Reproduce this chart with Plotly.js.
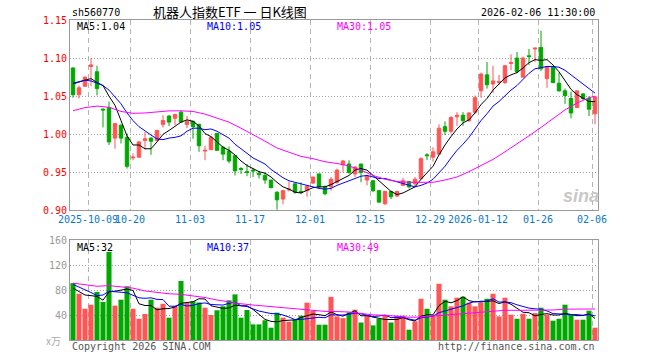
<!DOCTYPE html>
<html><head><meta charset="utf-8">
<script src="https://cdn.plot.ly/plotly-3.0.1.min.js"></script>
<style>html,body{margin:0;padding:0;background:#fff}#c{width:660px;height:360px}</style>
</head><body><div id="c"></div>
<script>
const dates = ["2025-09-26","2025-09-29","2025-09-30","2025-10-09","2025-10-10","2025-10-13","2025-10-14","2025-10-15","2025-10-16","2025-10-17",
"2025-10-20","2025-10-21","2025-10-22","2025-10-23","2025-10-24","2025-10-27","2025-10-28","2025-10-29","2025-10-30","2025-10-31",
"2025-11-03","2025-11-04","2025-11-05","2025-11-06","2025-11-07","2025-11-10","2025-11-11","2025-11-12","2025-11-13","2025-11-14",
"2025-11-17","2025-11-18","2025-11-19","2025-11-20","2025-11-21","2025-11-24","2025-11-25","2025-11-26","2025-11-27","2025-11-28",
"2025-12-01","2025-12-02","2025-12-03","2025-12-04","2025-12-05","2025-12-08","2025-12-09","2025-12-10","2025-12-11","2025-12-12",
"2025-12-15","2025-12-16","2025-12-17","2025-12-18","2025-12-19","2025-12-22","2025-12-23","2025-12-24","2025-12-25","2025-12-26",
"2025-12-29","2025-12-30","2025-12-31","2026-01-05","2026-01-06","2026-01-07","2026-01-08","2026-01-09","2026-01-12","2026-01-13",
"2026-01-14","2026-01-15","2026-01-16","2026-01-19","2026-01-20","2026-01-21","2026-01-22","2026-01-23","2026-01-26","2026-01-27",
"2026-01-28","2026-01-29","2026-01-30","2026-02-02","2026-02-03","2026-02-04","2026-02-05","2026-02-06"];

const open  = [1.087,1.052,1.063,1.089,1.082,1.033,1.035,0.995,1.012,0.996,
0.969,0.970,0.992,0.995,0.992,1.013,1.024,1.021,1.029,1.013,
1.017,1.013,0.978,0.980,1.001,0.983,0.978,0.972,0.955,0.951,
0.953,0.949,0.946,0.940,0.924,0.915,0.927,0.935,0.925,0.926,
0.936,0.948,0.931,0.931,0.937,0.960,0.961,0.948,0.961,0.940,
0.939,0.926,0.909,0.925,0.919,0.933,0.938,0.935,0.942,0.973,
0.970,0.974,1.010,1.004,1.023,1.025,1.018,1.029,1.057,1.078,
1.066,1.068,1.068,1.093,1.100,1.075,1.103,1.112,1.114,1.073,
1.089,1.067,1.057,1.047,1.035,1.053,1.047,1.027];
const high  = [1.088,1.064,1.076,1.100,1.090,1.034,1.043,1.015,1.013,1.001,
0.975,0.991,1.003,0.996,1.006,1.025,1.025,1.027,1.031,1.024,
1.018,1.014,0.985,0.998,1.002,0.985,0.984,0.973,0.957,0.961,
0.956,0.952,0.950,0.940,0.925,0.927,0.938,0.936,0.937,0.933,
0.944,0.948,0.933,0.944,0.955,0.966,0.966,0.958,0.961,0.945,
0.940,0.927,0.926,0.926,0.926,0.943,0.939,0.944,0.970,0.975,
0.983,1.013,1.017,1.024,1.029,1.029,1.029,1.051,1.081,1.095,
1.090,1.078,1.091,1.105,1.108,1.102,1.112,1.114,1.136,1.089,
1.089,1.081,1.060,1.056,1.057,1.054,1.050,1.049];
const low   = [1.048,1.047,1.062,1.063,1.051,1.009,0.986,0.981,0.988,0.955,
0.966,0.969,0.980,0.973,0.991,1.009,1.011,1.012,1.015,1.008,
0.994,0.977,0.966,0.979,0.978,0.966,0.962,0.946,0.948,0.945,
0.944,0.942,0.935,0.929,0.901,0.908,0.925,0.922,0.922,0.918,
0.935,0.929,0.920,0.926,0.935,0.950,0.948,0.944,0.937,0.933,
0.924,0.910,0.907,0.915,0.918,0.932,0.929,0.931,0.940,0.966,
0.964,0.974,0.999,1.001,1.011,1.011,1.016,1.027,1.048,1.060,
1.054,1.065,1.066,1.084,1.080,1.075,1.091,1.095,1.083,1.061,
1.067,1.056,1.040,1.021,1.035,1.045,1.024,1.013];
const close = [1.052,1.061,1.075,1.091,1.060,1.032,0.990,1.014,0.995,0.958,
0.970,0.990,0.994,0.991,1.005,1.018,1.016,1.026,1.016,1.017,
1.010,0.985,0.979,0.996,0.979,0.974,0.965,0.952,0.954,0.950,
0.952,0.947,0.940,0.930,0.914,0.926,0.928,0.924,0.924,0.932,
0.944,0.931,0.922,0.941,0.953,0.965,0.950,0.957,0.950,0.945,
0.926,0.911,0.925,0.918,0.925,0.939,0.931,0.941,0.968,0.972,
0.977,1.008,1.004,1.022,1.025,1.018,1.028,1.048,1.079,1.065,
1.070,1.069,1.090,1.094,1.082,1.100,1.102,1.113,1.086,1.089,
1.068,1.057,1.051,1.028,1.057,1.047,1.033,1.049];

const ma5 = [1.067,1.069,1.072,1.073,1.068,1.064,1.050,1.038,1.018,0.998,
0.986,0.986,0.981,0.981,0.990,1.000,1.005,1.011,1.016,1.019,
1.017,1.011,1.001,0.997,0.990,0.983,0.979,0.973,0.965,0.959,
0.955,0.951,0.949,0.944,0.937,0.931,0.928,0.924,0.923,0.927,
0.930,0.931,0.931,0.934,0.938,0.942,0.946,0.953,0.955,0.953,
0.946,0.938,0.931,0.925,0.921,0.923,0.927,0.931,0.941,0.950,
0.958,0.973,0.986,0.997,1.007,1.015,1.019,1.028,1.039,1.047,
1.058,1.066,1.074,1.078,1.081,1.087,1.094,1.098,1.097,1.098,
1.091,1.082,1.070,1.059,1.052,1.048,1.043,1.043];
const ma10 = [1.066,1.069,1.071,1.070,1.067,1.064,1.058,1.049,1.040,1.028,
1.018,1.010,1.004,0.999,0.994,0.993,0.995,0.996,0.998,1.004,
1.008,1.008,1.006,1.007,1.004,1.000,0.995,0.987,0.981,0.974,
0.969,0.965,0.961,0.954,0.948,0.943,0.939,0.937,0.934,0.932,
0.931,0.929,0.928,0.929,0.933,0.936,0.939,0.942,0.945,0.946,
0.944,0.942,0.942,0.940,0.937,0.935,0.933,0.931,0.933,0.936,
0.941,0.950,0.958,0.969,0.979,0.987,0.996,1.007,1.018,1.027,
1.037,1.043,1.051,1.058,1.064,1.072,1.080,1.086,1.087,1.089,
1.089,1.088,1.084,1.078,1.073,1.067,1.060,1.054];
const ma30Idx = [0,2,4,6,8,10,12,14,16,18,20,22,24,26,28,30,32,34,36,38,40,42,44,46,48,50,52,54,56,58,60,62,64,66,68,70,72,74,76,78,80,82,84,86,87];
const ma30 = [1.031,1.035,1.037,1.0355,1.030,1.0275,1.028,1.0297,1.0307,1.0308,1.030,1.0265,1.021,1.016,1.008,1.000,0.991,0.982,0.976,0.971,0.968,0.964,0.9617,0.9585,0.953,0.946,0.941,0.938,0.937,0.937,0.937,0.940,0.944,0.951,0.959,0.967,0.977,0.987,0.998,1.009,1.021,1.032,1.041,1.048,1.050];

const volume = [91,74,50,56.5,77,61,141,55,64.5,86,
50,34,41.6,64.5,51.7,58,35.7,54.4,94.4,59.7,
62,60,51.7,40,47.5,54,63.5,73,35.7,48,
25,25,31.5,19.7,43.7,35.7,29.3,32.5,39,59.7,
46.9,24.5,24.5,69,37.8,35,44,48.5,28,39.4,
23.4,34,39.4,28,39,39,16.5,29.8,66,50,
39.4,90,64.5,53.8,67.7,69.3,59.7,53.8,60,66,
74,37.8,67.7,40.5,34,42,34,43,51.7,40.5,
30.9,34,56.5,40.5,32.5,32.5,46.9,19.7];
const vma5 = [83,78,72,71,69.7,63.7,77.1,78.1,79.7,81.5,
79.3,57.9,55.2,55.2,48.4,50,50.3,52.9,58.8,60.4,
61.2,66.1,65.6,54.7,52.2,50.6,51.3,55.6,54.7,54.8,
49,41.3,33,29.8,29,31.1,32,32.2,36,39.2,
41.5,40.5,38.9,44.9,40.5,38.2,42.1,46.9,38.7,39,
36.7,34.7,32.8,32.8,32.8,35.9,32.4,30.5,38.1,40.3,
40.3,55,62,59.5,63.1,69.1,63,60.9,62.1,61.8,
62.7,58.3,61.1,57.2,50.8,44.4,43.6,38.7,40.9,42.2,
40,40,42.7,40.5,38.9,39.2,41.8,34.4];
const vma10 = [89,85,81,76,71,72,78,77,76,75.6,
71.5,67.5,66.7,67.5,65,64.7,54.1,54.1,57,54.4,
55.6,58.2,59.3,56.8,56.3,55.9,58.7,60.6,54.7,53.5,
49.8,46.3,44.3,42.3,41.9,40,36.7,32.6,32.9,34.1,
36.3,36.3,35.6,40.5,39.9,39.9,41.3,42.9,41.8,39.8,
37.5,38.4,39.9,35.8,35.9,36.3,33.6,31.7,35.5,36.6,
38.1,43.7,46.3,48.8,51.7,54.7,59,61.5,60.8,62.5,
65.9,60.7,61,59.7,56.3,53.6,51,49.9,49.1,46.5,
42.2,41.8,40.7,40.7,40.6,39.6,40.9,38.6];
const vma30Idx = [0,2,4,6,8,10,12,14,16,18,20,22,24,26,28,30,32,34,36,38,40,42,44,46,48,50,52,54,56,58,60,62,64,66,68,70,72,74,76,78,80,82,84,86,87];
const vma30 = [91,89,86,87,85,83,78.5,76,74,73,71,68,64,60.5,58,56,54.3,52.7,50.3,48.3,46.8,45.8,45.5,44.8,42.5,40.2,39.6,38,36.4,36.8,38.3,41,42.3,43.2,45.5,47,47.5,47.5,47.5,47.5,48,49.4,49.6,49.6,49.6];

const tickDates  = ["2025-10-09","2025-10-20","2025-11-03","2025-11-17","2025-12-01","2025-12-15","2025-12-29","2026-01-12","2026-01-26","2026-02-06"];
const tickLabels = ["2025-10-09","10-20","11-03","11-17","12-01","12-15","12-29","2026-01-12","01-26","02-06"];
const priceTicks = [0.90,0.95,1.00,1.05,1.10,1.15];
const priceTickText = ["0.90","0.95","1.00","1.05","1.10","1.15"];
const volTicks = [40,80,120,160];
const volTickText = ["40","80","120","160"];
const maLabels = {p5:"MA5:1.04", p10:"MA10:1.05", p30:"MA30:1.05", v5:"MA5:32", v10:"MA10:37", v30:"MA30:49"};
const titleText = "机器人指数ETF\u00a0一\u00a0日K线图";

const RED = "#ff5555", GREEN = "#00a800";
const idx = dates.map((d,i)=>i);
const tickPos = tickDates.map(d => dates.indexOf(d) - 0.5);
const volColors = close.map((c,i)=> c >= open[i] ? RED : GREEN);
const MONO = "DejaVu Sans Mono";

const traces = [
  {type:"candlestick", x:idx, open:open, high:high, low:low, close:close, xaxis:"x", yaxis:"y",
   increasing:{line:{color:RED,width:1}, fillcolor:RED},
   decreasing:{line:{color:GREEN,width:1}, fillcolor:GREEN},
   whiskerwidth:0, hoverinfo:"none", showlegend:false},
  {type:"scatter", mode:"lines", x:idx, y:ma5, line:{color:"#000000",width:1}, xaxis:"x", yaxis:"y", hoverinfo:"none"},
  {type:"scatter", mode:"lines", x:idx, y:ma10, line:{color:"#0000ff",width:1}, xaxis:"x", yaxis:"y", hoverinfo:"none"},
  {type:"scatter", mode:"lines", x:ma30Idx, y:ma30, line:{color:"#ff00ff",width:1}, xaxis:"x", yaxis:"y", hoverinfo:"none"},
  {type:"bar", x:idx, y:volume, marker:{color:volColors, line:{width:0}}, xaxis:"x2", yaxis:"y2", hoverinfo:"none"},
  {type:"scatter", mode:"lines", x:idx, y:vma5, line:{color:"#000000",width:1}, xaxis:"x2", yaxis:"y2", hoverinfo:"none"},
  {type:"scatter", mode:"lines", x:idx, y:vma10, line:{color:"#0000ff",width:1}, xaxis:"x2", yaxis:"y2", hoverinfo:"none"},
  {type:"scatter", mode:"lines", x:vma30Idx, y:vma30, line:{color:"#ff00ff",width:1}, xaxis:"x2", yaxis:"y2", hoverinfo:"none"}
];

const gridX = {showgrid:true, gridcolor:"#b4b4b4", griddash:"5px,4px", gridwidth:1};
const frame = {showline:true, mirror:true, linecolor:"#999999", linewidth:1, zeroline:false, ticks:""};
const PX = px => (px-70)/528, PY = py => (340-py)/320;
const ann = (text,x,y,color,xanchor,size,family) => ({text:text, x:x, y:y, xref:"paper", yref:"paper", showarrow:false, xanchor:xanchor||"left", yanchor:"middle", font:{family:family||MONO, size:size||10, color:color||"#000"}});

const layout = {
  width:660, height:360, margin:{l:70, r:62, t:20, b:20},
  paper_bgcolor:"#fff", plot_bgcolor:"#fff", showlegend:false, hovermode:false,
  bargap:0.16, boxgap:0.18,
  xaxis: Object.assign({domain:[0,1], anchor:"y", range:[-0.5,87.5], tickvals:tickPos, ticktext:tickLabels, tickangle:0,
     tickfont:{family:MONO, size:10, color:"#0a78c8"}, rangeslider:{visible:false}, fixedrange:true}, gridX, frame),
  xaxis2: Object.assign({domain:[0,1], anchor:"y2", range:[-0.5,87.5], tickvals:tickPos, showticklabels:false, fixedrange:true}, gridX, frame),
  yaxis: Object.assign({domain:[0.4047,1], range:[0.90,1.15], tickvals:priceTicks, ticktext:priceTickText,
     tickfont:{family:MONO, size:10, color:"#ff0000"}, showgrid:true, gridcolor:"#a0a0a0", griddash:"1px,2px", fixedrange:true}, frame),
  yaxis2: Object.assign({domain:[0,0.3125], range:[0,160], tickvals:volTicks, ticktext:volTickText,
     tickfont:{family:MONO, size:10, color:"#999999"}, showgrid:true, gridcolor:"#a0a0a0", griddash:"1px,2px", fixedrange:true}, frame),
  annotations:[
    ann("sh560770", PX(70), PY(12), "#000", "left"),
    ann(titleText, PX(230), PY(11), "#000", "center", 13, "Noto Sans CJK SC"),
    ann("2026-02-06 11:30:00", PX(597), PY(12), "#000", "right"),
    ann(maLabels.p5, PX(75), PY(27), "#000000", "left"),
    ann(maLabels.p10, PX(205), PY(27), "#0000ff", "left"),
    ann(maLabels.p30, PX(335), PY(27), "#ff00ff", "left"),
    ann(maLabels.v5, PX(75), PY(247), "#000000", "left"),
    ann(maLabels.v10, PX(205), PY(247), "#0000ff", "left"),
    ann(maLabels.v30, PX(335), PY(247), "#ff00ff", "left"),
    ann("x万", PX(63), PY(340), "#aaaaaa", "right", 10, "Noto Sans CJK SC"),
    ann("Copyright 2026 SINA.COM", PX(70), PY(346.5), "#555555", "left"),
    ann("http://finance.sina.com.cn", PX(597), PY(346.5), "#555555", "right"),
    ann("<b><i>sina</i></b>", PX(581), PY(196), "#c8c8c8", "center", 18, "Liberation Sans")
  ]
};

Plotly.newPlot("c", traces, layout, {staticPlot:true, displayModeBar:false});
</script></body></html>
